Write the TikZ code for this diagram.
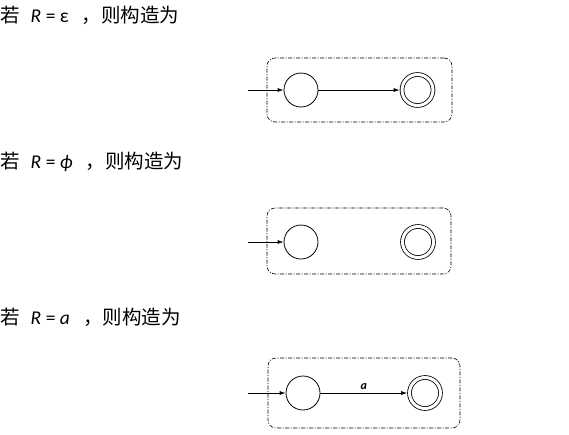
\documentclass[tikz,border=0pt]{standalone}
\usepackage{fontspec}
\usetikzlibrary{arrows.meta}
\setmainfont{Carlito}
\newfontfamily\cjk{Noto Sans CJK SC}
\newcommand{\cond}[1]{{\cjk 若}\hspace{11pt}\textit{R}\hspace{4.5pt}=\hspace{4.5pt}#1\hspace{13pt}{\cjk ，则构造为}}
\begin{document}
\begin{tikzpicture}[x=1pt,y=-1pt,
  state/.style={draw, circle, line width=0.8pt, minimum size=34pt, inner sep=0pt},
  accept/.style={draw, circle, double, double distance=3pt, line width=0.8pt, minimum size=31pt, inner sep=0pt, outer sep=2.3pt},
  frame/.style={draw, line width=0.6pt, rounded corners=8pt, dash pattern=on 4pt off 1.5pt on 1pt off 1.5pt, inner sep=0pt},
  edge/.style={-{Latex[length=6pt,width=4pt]}, line width=0.8pt},
  caption/.style={anchor=west, inner sep=0pt, font=\fontsize{19.5}{22}\selectfont}]
\useasboundingbox (0,0) rectangle (569,434);
% R = epsilon
\node[caption] (T1) at (0,15) {\cond{ε}};
\node[frame, minimum width=185pt, minimum height=64pt] (B1) at (359.5,90) {};
\coordinate (I1) at (248,90);
\node[state] (S1) at (301,90) {};
\node[accept] (F1) at (417.5,90) {};
\draw [edge] (I1) -- (S1);
\draw [edge] (S1) -- (F1);
% R = phi
\node[caption] (T2) at (0,162) {\cond{\textit{ϕ}}};
\node[frame, minimum width=184pt, minimum height=66pt] (B2) at (359,241) {};
\coordinate (I2) at (248,242);
\node[state] (S2) at (301,242) {};
\node[accept] (F2) at (418,242) {};
\draw [edge] (I2) -- (S2);
% R = a
\node[caption] (T3) at (0,317) {\cond{\textit{a}}};
\node[frame, minimum width=192pt, minimum height=70pt] (B3) at (364,393) {};
\coordinate (I3) at (248,393);
\node[state] (S3) at (303,393) {};
\node[accept] (F3) at (425,393) {};
\draw [edge] (I3) -- (S3);
\draw [edge] (S3) -- node[above, font=\fontsize{12}{14}\selectfont\bfseries\itshape] {a} (F3);
\end{tikzpicture}
\end{document}
